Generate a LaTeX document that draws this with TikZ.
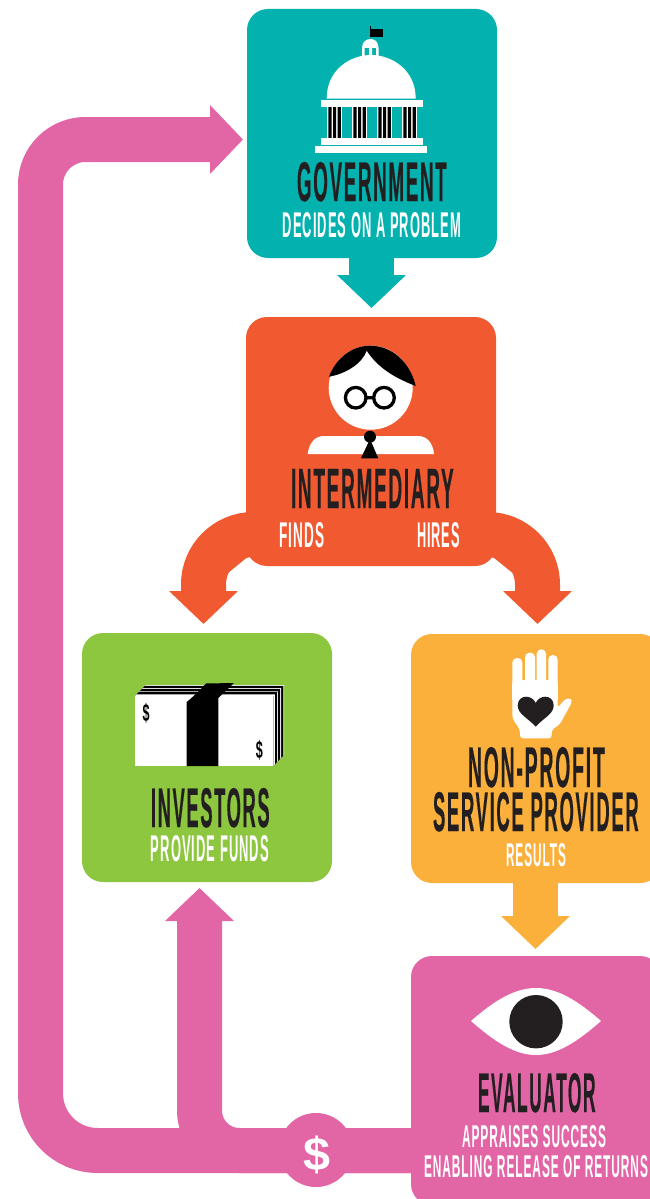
\documentclass[tikz,border=0pt]{standalone}
\usepackage{fontspec}
\usepackage{graphicx}
\setmainfont{Liberation Sans}
\newfontfamily\hdfont[FakeBold=0.5,LetterSpace=9]{Liberation Sans Bold}
\newfontfamily\sbfont[LetterSpace=8]{Liberation Sans Bold}
\usetikzlibrary{arrows.meta,calc}
\definecolor{cteal}{HTML}{03B2AF}
\definecolor{cred}{HTML}{F15A30}
\definecolor{cgreen}{HTML}{8DC63F}
\definecolor{corange}{HTML}{FBB03B}
\definecolor{cpink}{HTML}{E265A6}
\definecolor{cink}{HTML}{231F20}
\newcommand{\hdtext}[3]{\resizebox{#1pt}{#2pt}{\raisebox{0pt}[\height][0pt]{\hdfont #3\kern-0.9pt}}}
\newcommand{\sbtext}[3]{\resizebox{#1pt}{#2pt}{\raisebox{0pt}[\height][0pt]{\sbfont #3\kern-0.8pt}}}
\tikzset{
  box/.style={rectangle,rounded corners=21pt,inner sep=0pt,minimum width=250pt,minimum height=249pt},
  txt/.style={inner sep=0pt,outer sep=0pt},
  head/.style={txt,text=cink},
  subh/.style={txt,text=white},
  flow/.style={line width=45pt},
  tip/.style={-{Triangle[length=33pt,width=67pt]}},
}
\begin{document}
\begin{tikzpicture}[x=1pt,y=-1pt]
\useasboundingbox (0,0) rectangle (650,1199);
\clip (0,0) rectangle (650,1199);
\fill[white] (0,0) rectangle (650,1199);

% boxes
\node[box,fill=cteal] (gov) at (372,133.5) {};
\node[box,fill=cred] (inter) at (371,441.5) {};
\node[box,fill=cgreen] (inv) at (207,757.5) {};
\node[box,fill=corange] (prov) at (536,758.5) {};

% connector end points
\coordinate (govtip) at (371.5,308);
\coordinate (lefttip) at (203.5,624);
\coordinate (righttip) at (537.5,624);
\coordinate (provtip) at (535.5,949);
\coordinate (invtip) at (199.5,888);
\coordinate (govin) at (243,139.5);
\coordinate (lstart) at (275,534.5);
\coordinate (rstart) at (465,534.5);
\coordinate (evalout) at (420,1150.5);

% connectors
\draw[flow,tip,draw=cteal,fill=cteal] (gov.south -| govtip) -- (govtip);
\draw[flow,tip,draw=corange,fill=corange] (prov.south -| provtip) -- (provtip);
\draw[flow,tip,draw=cred,fill=cred,rounded corners=50pt] (lstart) -- (lefttip |- lstart) -- (lefttip);
\draw[flow,tip,draw=cred,fill=cred,rounded corners=50pt] (rstart) -- (righttip |- rstart) -- (righttip);
\draw[flow,tip,draw=cpink] (evalout) [rounded corners=57pt] -- (40.5,1150.5) [rounded corners=45pt] -- (40.5,139.5) -- (govin);
\draw[flow,tip,draw=cpink,rounded corners=40pt] (evalout) -- (invtip |- evalout) -- (invtip);

\node[circle,fill=cpink,minimum size=74pt,inner sep=0pt] (money) at (316,1150) {};
\node[txt,text=white] (moneysign) at (316.5,1155) {\resizebox*{27pt}{38pt}{\bfseries\$}};
\node[box,fill=cpink] (eval) at (536,1080.5) {};

% capitol
\fill[black] (369.5,29) rectangle (383,37);
\fill[black] (369.5,26) rectangle (370.7,37);
\fill[white] (362,48) .. controls (362,42) and (366,39) .. (370.5,39) .. controls (375,39) and (378.5,42) .. (378.5,48) -- cycle;
\fill[white] (362,48) rectangle (364.5,56) (369,48) rectangle (372,56) (376,48) rectangle (378.5,56);
\fill[white] (326.7,98.5) .. controls (326.7,70) and (350,55) .. (371,55) .. controls (392,55) and (415.7,70) .. (415.7,98.5) -- cycle;
\fill[white] (320.7,100) rectangle (422.7,107);
\foreach \x in {328.3,353.3,378.3,403.3}{
  \fill[white] (\x-1.2,107) rectangle (\x+13.8,138);
  \fill[black] (\x,107) rectangle (\x+3.2,138) (\x+4.7,107) rectangle (\x+7.9,138) (\x+9.4,107) rectangle (\x+12.6,138);
}
\fill[white] (320.7,138) rectangle (422.7,145);
\fill[white] (315.3,146) rectangle (427.3,152.7);

% person
\fill[white] (370.7,387.7) circle (42);
\fill[black] (329,376.7) .. controls (336,358) and (352,345.7) .. (370,345.7) .. controls (392,345.7) and (410,362) .. (415.7,386) .. controls (395,378) and (378,368) .. (366.7,350.7) .. controls (362,364) and (345,374) .. (329,376.7) -- cycle;
\draw[black,line width=3.3pt] (355.7,397.7) circle (10.3) (384,397.7) circle (10.3) (366,397.7) -- (373.7,397.7);
\fill[white] (307.7,454) .. controls (309,443) and (315,436) .. (324,436) -- (418,436) .. controls (427,436) and (433,443) .. (434,454) -- cycle;
\fill[black] (370,436.7) circle (6);
\fill[black] (370,439) -- (361,458.3) -- (378.3,458.3) -- cycle;

% money
\foreach \t/\c in {1/white,0.93/black,0.72/white,0.64/black,0.43/white,0.35/black,0.15/white}{
  \fill[\c] (135,696) -- (135+\t*10.7,696-\t*11) -- (273.3+\t*10.7,696-\t*11) -- (273.3+\t*10.7,766-\t*11) -- (273.3,766) -- (273.3,696) -- cycle;
}
\fill[white] (135,696) rectangle (273.3,766);
\fill[black] (186.7,766) -- (186.7,702) .. controls (194,696) and (200,690) .. (206,683.5) -- (234,683) -- (218.3,698) -- (218.3,766) -- cycle;
\node[txt,text=black] (dollarone) at (146,713) {\resizebox*{7pt}{20pt}{\bfseries\$}};
\node[txt,text=black] (dollartwo) at (259.3,750.7) {\resizebox*{7pt}{20pt}{\bfseries\$}};

% hand
\fill[white,rounded corners=3pt] (512.3,680) -- (512.3,718) -- (520,730) -- (520,738.3) -- (551.7,738.3) -- (551.7,730) -- (560,724) -- (572,702) -- (571,698) -- (565,699) -- (557.7,708) -- (557.7,680) -- cycle;
\fill[white,rounded corners=4.5pt] (512.3,690) rectangle (522.3,658);
\fill[white,rounded corners=4.5pt] (525,690) rectangle (535,652.7);
\fill[white,rounded corners=4.5pt] (536.7,690) rectangle (546,649.3);
\fill[white,rounded corners=4.5pt] (548.3,690) rectangle (557.7,655);
\fill[white] (512.3,685) rectangle (557.7,700);
\fill[cink] (535.7,726.7) .. controls (528,718) and (517.7,714) .. (517.7,705.5) .. controls (517.7,699.5) and (522,696.7) .. (526,696.7) .. controls (530,696.7) and (534,699) .. (535.7,703) .. controls (537.4,699) and (541.4,696.7) .. (545.4,696.7) .. controls (549.4,696.7) and (553.7,699.5) .. (553.7,705.5) .. controls (553.7,714) and (543.4,718) .. (535.7,726.7) -- cycle;

% eye
\fill[white] (471,1021) .. controls (495,1000) and (515,988) .. (536,988) .. controls (557,988) and (577,1000) .. (601,1021) .. controls (577,1042) and (557,1055) .. (536,1055) .. controls (515,1055) and (495,1042) .. (471,1021) -- cycle;
\fill[cink] (536,1021.7) circle (26.7);

% texts
\node[head] (t1) at (371,181.5) {\hdtext{148}{39}{GOVERNMENT}};
\node[subh] (t2) at (371.5,224.5) {\sbtext{177}{25}{DECIDES ON A PROBLEM}};
\node[head] (t3) at (371.5,488.5) {\hdtext{161}{39}{INTERMEDIARY}};
\node[subh] (t4) at (301,534.5) {\sbtext{44}{25}{FINDS}};
\node[subh] (t5) at (438,534.5) {\sbtext{42}{25}{HIRES}};
\node[head] (t6) at (209.5,807.5) {\hdtext{117}{39}{INVESTORS}};
\node[subh] (t7) at (209.5,848) {\sbtext{117}{26}{PROVIDE FUNDS}};
\node[head] (t8) at (535.5,767) {\hdtext{135}{40}{NON-PROFIT}};
\node[head] (t9) at (535,811.5) {\hdtext{204}{39}{SERVICE PROVIDER}};
\node[subh] (t10) at (535.5,854.5) {\sbtext{59}{23}{RESULTS}};
\node[head] (t11) at (536,1092.5) {\hdtext{116}{39}{EVALUATOR}};
\node[subh] (t12) at (533.5,1136) {\sbtext{143}{22}{APPRAISES SUCCESS}};
\node[subh] (t13) at (535.5,1166) {\sbtext{223}{22}{ENABLING RELEASE OF RETURNS}};
\end{tikzpicture}
\end{document}
